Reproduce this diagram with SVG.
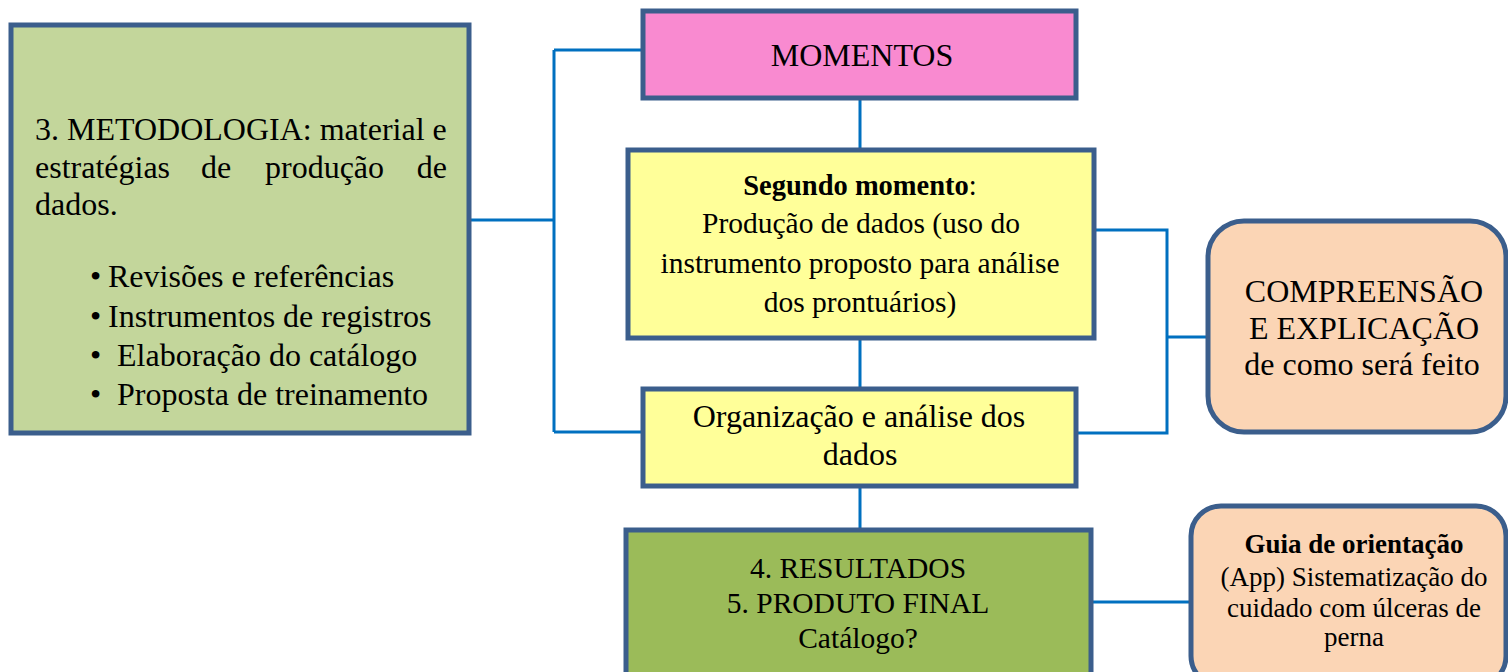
<svg xmlns="http://www.w3.org/2000/svg" width="1508" height="672" viewBox="0 0 1508 672">
<style>
.box{stroke:#3B5E8C;stroke-width:5}
.con{fill:none;stroke:#0070C0;stroke-width:3}
text{font-family:'Liberation Serif','DejaVu Serif',serif;font-size:32px;fill:#000}
.c{text-anchor:middle}
.m{font-size:29.5px}
.s{font-size:27px}
.b{font-weight:bold}
</style>
<rect width="1508" height="672" fill="#ffffff"/>
<g id="connectors">
<path class="con" d="M470 220H554M554 50V432M554 50H642M554 432H642"/>
<path class="con" d="M860 98V150M860 338V390M860 486V528"/>
<path class="con" d="M1095 230H1167V433H1077M1167 337H1207"/>
<path class="con" d="M1092 602H1190"/>
</g>
<g id="metodologia">
<rect class="box" x="11" y="25" width="458" height="408" fill="#C3D69B"/>
<text x="35" y="140">3. METODOLOGIA: material e</text>
<text x="35" y="178">estratégias</text>
<text x="201" y="178">de</text>
<text x="265" y="178">produção</text>
<text x="447" y="178" text-anchor="end">de</text>
<text x="35" y="215">dados.</text>
<text x="90" y="287">•</text><text x="108" y="287">Revisões e referências</text>
<text x="90" y="327">•</text><text x="108" y="327">Instrumentos de registros</text>
<text x="90" y="366">•</text><text x="117" y="366">Elaboração do catálogo</text>
<text x="90" y="405">•</text><text x="117" y="405">Proposta de treinamento</text>
</g>
<g id="momentos">
<rect class="box" x="643" y="11" width="433" height="87" fill="#F98AD0"/>
<text class="c" x="862" y="66">MOMENTOS</text>
</g>
<g id="segundo">
<rect class="box" x="628" y="150" width="466" height="188" fill="#FFFF99"/>
<text class="c m" x="860" y="195" style="font-size:28.5px"><tspan class="b">Segundo momento</tspan>:</text>
<text class="c m" x="861" y="233">Produção de dados (uso do</text>
<text class="c m" x="860" y="273">instrumento proposto para análise</text>
<text class="c m" x="860" y="312">dos prontuários)</text>
</g>
<g id="organizacao">
<rect class="box" x="643" y="389" width="433" height="97" fill="#FFFF99"/>
<text class="c" x="859" y="427">Organização e análise dos</text>
<text class="c" x="860" y="465">dados</text>
</g>
<g id="resultados">
<rect class="box" x="626" y="530" width="465" height="160" fill="#9BBB59"/>
<text class="c m" x="858" y="578">4. RESULTADOS</text>
<text class="c m" x="858" y="613">5. PRODUTO FINAL</text>
<text class="c m" x="858" y="648">Catálogo?</text>
</g>
<g id="compreensao">
<rect class="box" x="1208" y="221" width="298" height="211" rx="36" fill="#FBD5B5"/>
<text class="c" x="1364" y="302">COMPREENSÃO</text>
<text class="c" x="1364" y="339">E EXPLICAÇÃO</text>
<text class="c" x="1362" y="375">de como será feito</text>
</g>
<g id="guia">
<rect class="box" x="1191" y="506" width="315" height="180" rx="30" fill="#FBD5B5"/>
<text class="c s b" x="1354" y="553">Guia de orientação</text>
<text class="c s" x="1354" y="586">(App) Sistematização do</text>
<text class="c s" x="1354" y="617">cuidado com úlceras de</text>
<text class="c s" x="1354" y="646">perna</text>
</g>
</svg>
